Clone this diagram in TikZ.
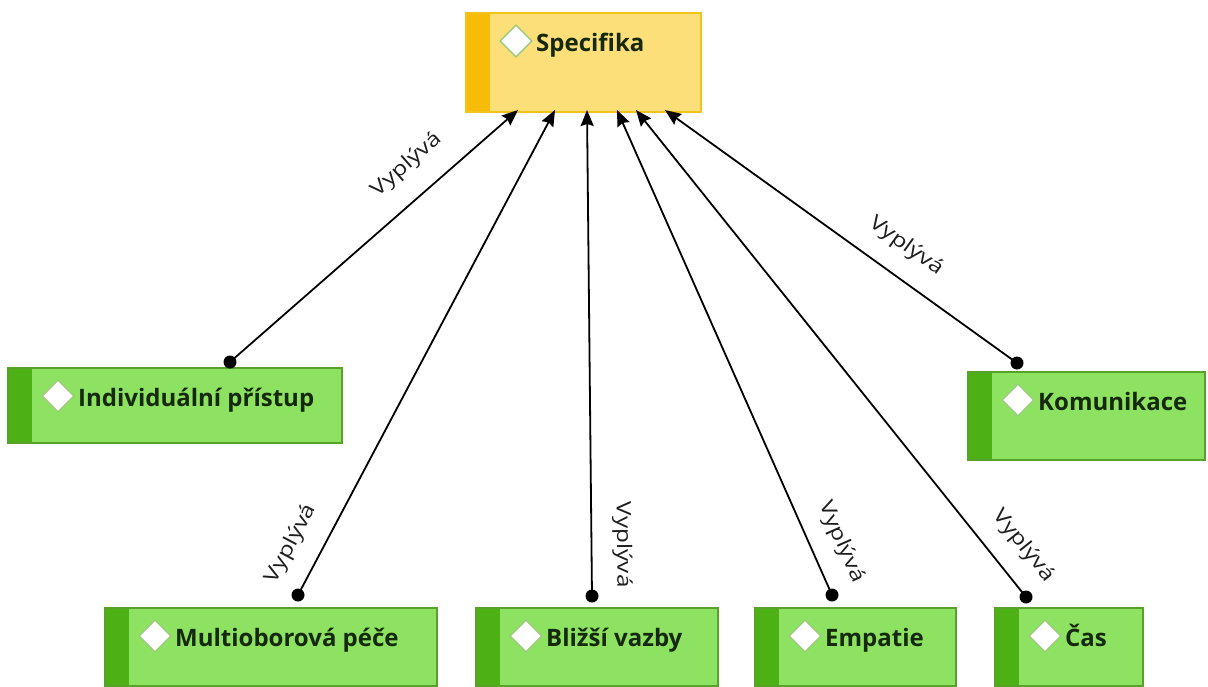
\documentclass[tikz,border=0pt]{standalone}
\usepackage{fontspec}
\setmainfont{Open Sans}
\usetikzlibrary{arrows.meta,calc}

\definecolor{ylwfill}{HTML}{FCDF78}
\definecolor{ylwstripe}{HTML}{F7BC08}
\definecolor{ylwedge}{HTML}{F0C419}
\definecolor{grnfill}{HTML}{8DE262}
\definecolor{grnstripe}{HTML}{4DB116}
\definecolor{grnedge}{HTML}{58A22C}
\definecolor{diaedge}{HTML}{9CCB7E}
\definecolor{txtdark}{HTML}{16290C}
\definecolor{lbltxt}{HTML}{1E1E1E}

\tikzset{
  objbox/.style={rectangle, line width=1.2pt, inner sep=0pt, outer sep=0pt},
  objdia/.style={draw=diaedge, fill=white, line width=1.5pt, minimum size=22.5pt,
                 inner sep=0pt, rotate=45},
  objtxt/.style={inner sep=0pt, font=\bfseries\fontsize{24}{28}\selectfont, text=txtdark},
  dot/.style={circle, fill=black, minimum size=13pt, inner sep=0pt},
  conn/.style={line width=1.8pt, -{Stealth[length=16pt, width=13pt, inset=2pt]}},
  relabel/.style={sloped, inner sep=0pt, text=lbltxt,
                  font=\fontsize{20}{22}\selectfont}
}

% relation caption, drawn a little wider than the font
\newcommand\relcap{\scalebox{1.22}[1]{Vyplývá}}

% object box: name, x, y, width, height, colour kind, caption
\newcommand\objbox[7]{%
  \node[objbox, fill=#6fill, draw=#6edge, minimum width=#4pt, minimum height=#5pt,
        anchor=north west] (#1) at (#2,#3) {};
  \fill[#6stripe] ($(#1.north west)+(0.6,0.6)$) rectangle ($(#1.south west)+(24,-0.6)$);
  \node[objdia] (#1-d) at ($(#1.north west)+(50,28)$) {};
  \node[objtxt, anchor=base west] (#1-t) at ($(#1.north west)+(70,38)$) {#7};
}

\begin{document}
\begin{tikzpicture}[x=1pt, y=-1pt]
  \useasboundingbox[fill=white] (0,0) rectangle (1208,686);

  % boxes
  \objbox{spec}{466}{13}{235}{99}{ylw}{Specifika}
  \objbox{ind}{8}{368}{334}{75}{grn}{Individuální přístup}
  \objbox{kom}{968}{372}{237}{88}{grn}{Komunikace}
  \objbox{mult}{105}{608}{332}{78}{grn}{Multioborová péče}
  \objbox{bliz}{476}{608}{242}{78}{grn}{Bližší vazby}
  \objbox{emp}{755}{608}{201}{78}{grn}{Empatie}
  \objbox{cas}{995}{608}{148}{78}{grn}{Čas}

  % arrow ends on the bottom edge of Specifika
  \coordinate (t-ind)  at ($(spec.south west)+(52,-2)$);
  \coordinate (t-mult) at ($(spec.south west)+(89,-2)$);
  \coordinate (t-bliz) at ($(spec.south west)+(121,-2)$);
  \coordinate (t-emp)  at ($(spec.south west)+(151,-2)$);
  \coordinate (t-cas)  at ($(spec.south west)+(170,-2)$);
  \coordinate (t-kom)  at ($(spec.south west)+(199,-2)$);

  % connector origins
  \node[dot] (d-ind)  at (230,362) {};
  \node[dot] (d-mult) at (298,595) {};
  \node[dot] (d-bliz) at (592,596) {};
  \node[dot] (d-emp)  at (832,595) {};
  \node[dot] (d-cas)  at (1026,597) {};
  \node[dot] (d-kom)  at (1017,363) {};

  % relations
  \draw[conn] (d-ind.center)  -- node[relabel, pos=0.686, above=21pt] {\relcap} (t-ind);
  \draw[conn] (d-mult.center) -- node[relabel, pos=0.077, above=19pt] {\relcap} (t-mult);
  \draw[conn] (d-bliz.center) -- node[relabel, pos=0.105, above=20pt] {\relcap} (t-bliz);
  \draw[conn] (d-emp.center)  -- node[relabel, pos=0.084, above=19pt] {\relcap} (t-emp);
  \draw[conn] (d-cas.center)  -- node[relabel, pos=0.066, above=19pt] {\relcap} (t-cas);
  \draw[conn] (d-kom.center)  -- node[relabel, pos=0.365, above=19pt] {\relcap} (t-kom);
\end{tikzpicture}
\end{document}
